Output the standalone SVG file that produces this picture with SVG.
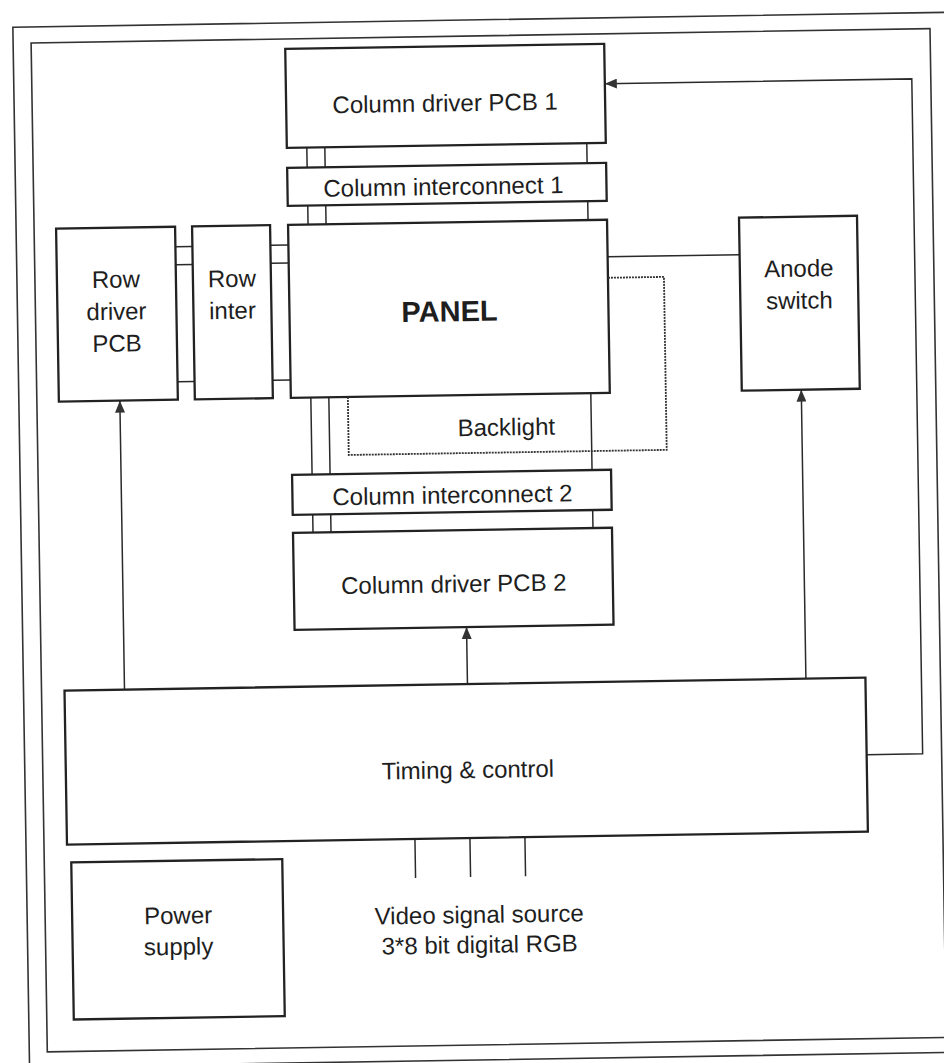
<svg xmlns="http://www.w3.org/2000/svg" width="944" height="1063" viewBox="0 0 944 1063">
<defs>
<marker id="arr" viewBox="0 0 12 10" refX="12" refY="5" markerWidth="12" markerHeight="10" orient="auto" markerUnits="userSpaceOnUse"><path d="M0,0 L12,5 L0,10 z" fill="#333"/></marker>
<style>
.box{fill:none;stroke:#222;stroke-width:2.3}
.frame{fill:none;stroke:#333;stroke-width:1.6}
.ln{fill:none;stroke:#2a2a2a;stroke-width:1.5}
.dot{fill:none;stroke:#333;stroke-width:1.8;stroke-dasharray:2 1}
.t{font-family:"Liberation Sans",Arial,sans-serif;font-size:24px;fill:#1e1e1e;text-anchor:middle}
.big{font-size:29px;font-weight:bold}
</style>
</defs>
<rect width="944" height="1063" fill="#fff"/>
<g transform="rotate(-0.92 472 531)">
<g id="frame">
<rect class="frame" x="21" y="20" width="934" height="1040"/>
<rect class="frame" x="39" y="36" width="899" height="1009"/>
</g>
<g id="connectors">
<path class="ln" d="M313,145V165M331,145V165M593,145V165M313,203V222M331,203V222M593,203V222M313,395V472M331,395V472M593,395V472M313,512V530M331,512V530M593,512V530"/>
<path class="ln" d="M180,242H197M180,260H197M180,377H197M275,242H293M275,260H293M275,377H293"/>
<path class="ln" d="M612,259H744"/>
<path class="ln" d="M122,684V395" marker-end="url(#arr)"/>
<path class="ln" d="M465,684V627" marker-end="url(#arr)"/>
<path class="ln" d="M803.5,684V395" marker-end="url(#arr)"/>
<path class="ln" d="M863,761H919V86H612" marker-end="url(#arr)"/>
<path class="ln" d="M410,838V877M465,838V877M520,838V877"/>
</g>
<g id="cd1"><rect class="box" x="293" y="46" width="319" height="99"/><text class="t" x="452" y="111">Column driver PCB 1</text></g>
<g id="ci1"><rect class="box" x="293" y="165" width="319" height="38"/><text class="t" x="449" y="194.5">Column interconnect 1</text></g>
<g id="panel"><rect class="box" x="293" y="222" width="319" height="173"/><text class="t big" x="453" y="321">PANEL</text></g>
<g id="backlight"><path class="dot" d="M612,280H668V453H350V395"/><text class="t" x="508" y="436">Backlight</text></g>
<g id="ci2"><rect class="box" x="293" y="472" width="319" height="40"/><text class="t" x="453" y="503">Column interconnect 2</text></g>
<g id="cd2"><rect class="box" x="293" y="530" width="319" height="97"/><text class="t" x="453" y="592">Column driver PCB 2</text></g>
<g id="rowdrv"><rect class="box" x="61" y="222" width="119" height="173"/><text class="t" x="120" y="282">Row</text><text class="t" x="120" y="314">driver</text><text class="t" x="120" y="346">PCB</text></g>
<g id="rowint"><rect class="box" x="197" y="222" width="78" height="173"/><text class="t" x="236" y="283">Row</text><text class="t" x="236" y="315">inter</text></g>
<g id="anode"><rect class="box" x="744" y="222" width="118" height="173"/><text class="t" x="803" y="282">Anode</text><text class="t" x="803" y="314">switch</text></g>
<g id="timing"><rect class="box" x="62" y="684" width="801" height="154"/><text class="t" x="464" y="778">Timing &amp; control</text></g>
<g id="power"><rect class="box" x="66" y="856" width="211" height="157"/><text class="t" x="172" y="919">Power</text><text class="t" x="172" y="950">supply</text></g>
<g id="video"><text class="t" x="473" y="923">Video signal source</text><text class="t" x="473" y="953">3*8 bit digital RGB</text></g>
</g>
</svg>
